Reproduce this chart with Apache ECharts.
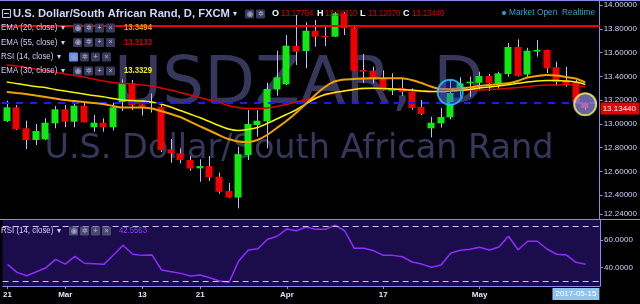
<!DOCTYPE html>
<html><head><meta charset="utf-8">
<script src="https://cdn.jsdelivr.net/npm/echarts@6/dist/echarts.min.js"></script>
<style>html,body{margin:0;padding:0;background:#000;}#c{width:640px;height:304px;}</style>
</head><body><div id="c"></div>
<script>
const categories = ['2017-02-21','2017-02-22','2017-02-23','2017-02-24','2017-02-27','2017-02-28',
'2017-03-01','2017-03-02','2017-03-03','2017-03-06','2017-03-07','2017-03-08','2017-03-09','2017-03-10','2017-03-13','2017-03-14','2017-03-15','2017-03-16','2017-03-17','2017-03-20','2017-03-21','2017-03-22','2017-03-23','2017-03-24','2017-03-27','2017-03-28','2017-03-29','2017-03-30','2017-03-31',
'2017-04-03','2017-04-04','2017-04-05','2017-04-06','2017-04-07','2017-04-10','2017-04-11','2017-04-12','2017-04-13','2017-04-14','2017-04-17','2017-04-18','2017-04-19','2017-04-20','2017-04-21','2017-04-24','2017-04-25','2017-04-26','2017-04-27','2017-04-28',
'2017-05-01','2017-05-02','2017-05-03','2017-05-04','2017-05-05','2017-05-08','2017-05-09','2017-05-10','2017-05-11','2017-05-12','2017-05-15','2017-05-16','2017-05-17'];

const open  = [13.0248,13.1402,12.9634,12.8649,12.8707,13.0055,13.1234,13.0190,13.1537,12.9718,13.0105,12.9718,13.1849,13.3423,13.1655,13.1790,13.1453,12.7865,12.7529,12.6964,12.6265,12.6459,12.5558,12.4354,12.3806,12.7385,12.9912,13.0223,13.2901,13.3339,13.6564,13.6143,13.7853,13.7432,13.7348,13.9318,13.8105,13.4543,13.4484,13.3827,13.2800,13.3027,13.2716,13.1427,12.9634,13.0055,13.0560,13.2859,13.3423,13.3474,13.4038,13.3423,13.4206,13.6480,13.4164,13.6143,13.6227,13.4771,13.3676,13.3558,13.17764];
const high  = [13.1958,13.1596,13.0274,12.9996,13.0476,13.1512,13.1596,13.2017,13.1790,13.0754,13.0476,13.1790,13.3760,13.3701,13.2017,13.2564,13.1739,12.8733,12.7950,12.7301,12.7023,12.7301,12.5912,12.5027,12.8084,13.1175,13.1175,13.3474,13.6168,13.7491,13.9175,13.8560,13.8754,13.8333,13.9428,13.9428,13.8190,13.5891,13.4821,13.4518,13.4265,13.3811,13.3002,13.2017,13.0611,13.1360,13.3701,13.3928,13.3979,13.4400,13.4206,13.4400,13.6817,13.7128,13.6413,13.7070,13.6260,13.5242,13.4821,13.3701,13.18310];
const low   = [13.0164,12.9491,12.7891,12.8227,12.8649,12.9634,12.9718,12.9718,13.0122,12.9347,12.9347,12.9449,13.1091,13.1175,13.0712,13.0964,12.7638,12.6737,12.6686,12.6063,12.5137,12.5196,12.4126,12.3764,12.2897,12.6964,12.8926,12.7950,13.2379,13.3280,13.4964,13.4686,13.6505,13.6564,13.7322,13.7491,13.4459,13.3449,13.3423,13.2817,13.2438,13.2371,13.1200,13.0754,12.8876,12.9701,13.0392,13.2295,13.2295,13.2859,13.2775,13.2960,13.3979,13.3996,13.3979,13.5663,13.4291,13.3196,13.3137,13.1764,13.12070];
const close = [13.1402,12.9550,12.8649,12.9406,13.0105,13.1234,13.0190,13.1537,13.0139,13.0105,12.9718,13.1402,13.3423,13.1596,13.1453,13.1874,12.7806,12.7529,12.6964,12.6248,12.6459,12.5507,12.4295,12.3806,12.7453,12.9996,13.0274,13.2943,13.3928,13.6590,13.6084,13.7853,13.7348,13.7297,13.9318,13.8055,13.4484,13.4400,13.3870,13.2834,13.2943,13.2691,13.1343,13.0838,13.0105,13.0585,13.2606,13.3423,13.3558,13.4038,13.3423,13.4265,13.6480,13.4038,13.6168,13.6227,13.4686,13.3558,13.3390,13.1832,13.13440];

const ema20 = [13.2691,13.2606,13.2522,13.2396,13.2270,13.2143,13.2017,13.1933,13.1849,13.1764,13.1680,13.1512,13.1385,13.1385,13.1385,13.1301,13.1091,13.0838,13.0585,13.0206,12.9827,12.9449,12.9070,12.8733,12.8522,12.8480,12.8649,12.9070,12.9659,13.0248,13.0922,13.1680,13.2438,13.3112,13.3575,13.3743,13.3785,13.3827,13.3844,13.3844,13.3844,13.3844,13.3701,13.3449,13.3154,13.2943,13.2943,13.2985,13.3070,13.3196,13.3280,13.3364,13.3423,13.3617,13.3912,13.4038,13.4122,13.4080,13.3954,13.3827,13.3494];
const ema55 = [13.4964,13.4880,13.4754,13.4627,13.4501,13.4375,13.4206,13.4080,13.3954,13.3785,13.3617,13.3491,13.3406,13.3364,13.3280,13.3196,13.3027,13.2859,13.2649,13.2438,13.2227,13.2017,13.1806,13.1554,13.1385,13.1301,13.1301,13.1343,13.1470,13.1638,13.1849,13.2017,13.2227,13.2438,13.2606,13.2775,13.2943,13.3027,13.3027,13.2985,13.2943,13.2901,13.2817,13.2733,13.2733,13.2733,13.2775,13.2817,13.2859,13.2859,13.2901,13.2943,13.3002,13.3070,13.3154,13.3238,13.3280,13.3280,13.3322,13.3250,13.3133];
const ema30 = [13.3533,13.3406,13.3280,13.3154,13.3070,13.2901,13.2775,13.2649,13.2522,13.2396,13.2295,13.2143,13.2017,13.1975,13.1933,13.1849,13.1680,13.1427,13.1133,13.0838,13.0543,13.0206,12.9870,12.9575,12.9449,12.9533,12.9701,13.0038,13.0417,13.0796,13.1175,13.1680,13.2143,13.2480,13.2649,13.2775,13.2901,13.2985,13.3002,13.2985,13.2943,13.2901,13.2859,13.2775,13.2733,13.2733,13.2775,13.2834,13.2901,13.3027,13.3112,13.3196,13.3305,13.3423,13.3533,13.3617,13.3659,13.3659,13.3617,13.3533,13.3329];
const rsi14 = [42.4,36.6,34.2,37.1,40.0,46.0,42.6,48.2,43.2,42.9,42.4,49.2,56.2,49.7,48.9,49.2,38.3,37.1,35.9,34.0,34.7,32.7,30.4,29.4,44.8,52.8,53.7,60.5,62.7,68.0,66.7,69.4,67.7,67.7,70.8,66.7,54.0,54.0,52.3,48.9,48.9,47.9,44.1,42.6,40.3,41.9,50.4,52.6,53.3,54.7,52.8,54.9,62.7,53.0,59.1,59.1,53.5,49.7,49.2,43.9,42.5563];

const tickDates  = ['2017-02-21','2017-03-01','2017-03-13','2017-03-21','2017-04-03','2017-04-17','2017-05-01'];
const tickLabels = ['21','Mar','13','21','Apr','17','May'];
const priceTicks = [12.24,12.4,12.6,12.8,13.0,13.2,13.4,13.6,13.8,14.0];
const rsiTicks = [40,60];
const rsiBands = [70,30];
const redLevel = 13.8333;
const dashedLevel = 13.1764;
const lastPrice = 13.1344;
const cursorDate = '2017-05-15';
const markerDates = ['2017-04-26','2017-05-16'];
const markerValues = [13.2665,13.1655];
const legendValues = ['13.3494','13.3133','13.3329'];
const rsiValueText = '42.5563';
const ohlcText = ['13.17764','13.18310','13.12070','13.13440'];

const LAV = '#8a8ae8';
const CLEAR = 'rgba(0,0,0,0)';
const FONT = '"Liberation Sans", Arial, sans-serif';
const candleData = open.map((o,i)=>[i,o,close[i],low[i],high[i]]);

function renderCandle(params, api){
  const i = api.value(0);
  const o = api.value(1), c = api.value(2), l = api.value(3), h = api.value(4);
  const pO = api.coord([i,o]), pC = api.coord([i,c]), pL = api.coord([i,l]), pH = api.coord([i,h]);
  const w = Math.round(api.size([1,0])[0]*0.72);
  const x = Math.round(pO[0]) + 0.5;
  const up = c >= o;
  const top = Math.min(pO[1],pC[1]), bot = Math.max(pO[1],pC[1]);
  return {type:'group', children:[
    {type:'line', shape:{x1:x,y1:pH[1],x2:x,y2:pL[1]}, style:{stroke:'#bcbcff', lineWidth:1}},
    {type:'rect', shape:{x:x-0.5-w/2, y:top, width:w, height:Math.max(bot-top,1.5)}, style:{fill: up?'#12e812':'#f00000'}}
  ]};
}

function txt(x,y,text,fill,size,weight,sx,align){
  return {type:'text', x:x, y:y, scaleX:sx||1, z:20, silent:true,
    style:{text:text, fill:fill, font:(weight||'normal')+' '+size+'px '+FONT, align:align||'left', verticalAlign:'middle'}};
}
function icon(x,y,glyph,bg){
  return [{type:'rect', z:20, silent:true, shape:{x:x,y:y-4.5,width:9,height:9,r:1}, style:{fill:bg||'#3a3a5c'}},
          {type:'text', z:21, silent:true, x:x+4.5, y:y, style:{text:glyph, fill:'#9a9abc', font:'bold 7px '+FONT, align:'center', verticalAlign:'middle'}}];
}
const G = [];
// watermark
G.push({type:'text', x:299, y:86, z:-1, silent:true, style:{text:'USDZAR, D', fill:'#37375c', font:'66px "DejaVu Sans", sans-serif', align:'center', verticalAlign:'middle'}});
G.push({type:'text', x:299, y:149, z:-1, silent:true, style:{text:'U.S. Dollar/South African Rand', fill:'#37375c', font:'33.5px "DejaVu Sans", sans-serif', align:'center', verticalAlign:'middle'}});
// frame
G.push({type:'line', z:5, silent:true, shape:{x1:0,y1:0.5,x2:640,y2:0.5}, style:{stroke:LAV, lineWidth:1}});
G.push({type:'line', z:5, silent:true, shape:{x1:0,y1:219.5,x2:640,y2:219.5}, style:{stroke:LAV, lineWidth:1}});
// title row
G.push({type:'rect', z:20, silent:true, shape:{x:2.5,y:9.5,width:8,height:8}, style:{fill:'none', stroke:'#c8c8f5', lineWidth:1}});
G.push({type:'line', z:20, silent:true, shape:{x1:4,y1:13.5,x2:9,y2:13.5}, style:{stroke:'#c8c8f5', lineWidth:1}});
G.push(txt(13,14,'U.S. Dollar/South African Rand, D, FXCM','#d4d4ff',11,'bold',1.02));
G.push(txt(233,14,'▾','#d4d4ff',8,'normal',1));
G.push(...icon(245,14,'◉'), ...icon(256,14,'✲'));
const ohlcX = [[272,281],[317,325],[360,368],[403,412]];
['O','H','L','C'].forEach((k,j)=>{ G.push(txt(ohlcX[j][0],14,k,'#ffffff',9,'bold',1)); G.push(txt(ohlcX[j][1],14,ohlcText[j],'#e00000',9,'normal',0.86)); });
G.push({type:'circle', z:20, silent:true, shape:{cx:504,cy:13,r:2}, style:{fill:'#36a3c8'}});
G.push(txt(509,13,'Market Open  Realtime','#36a3c8',9,'normal',0.93));
// legend rows
const rows = [['EMA (20, close)',28,'#e8a200',legendValues[0]],['EMA (55, close)',42.5,'#d00000',legendValues[1]],['RSI (14, close)',57,null,null],['EMA (30, close)',71,'#f0f000',legendValues[2]]];
rows.forEach(r=>{
  G.push(txt(1,r[1],r[0],'#d0d0ff',9,'normal',0.88));
  const isRsi = r[2]===null;
  const ax = isRsi ? 57 : 61;
  G.push(txt(ax,r[1],'▾','#d0d0ff',8,'normal',1));
  const x0 = isRsi ? 69 : 73;
  G.push(...icon(x0,r[1],'◉', isRsi?'#5a94f0':null), ...icon(x0+11,r[1],'✲'), ...icon(x0+22,r[1],'+'), ...icon(x0+33,r[1],'×'));
  if(!isRsi) G.push(txt(124,r[1],r[3],r[2],9,'bold',0.86));
});
// RSI pane legend
G.push(txt(1,231,'RSI (14, close)','#d0d0ff',9,'normal',0.88));
G.push(txt(57,231,'▾','#d0d0ff',8,'normal',1));
G.push(...icon(69,231,'◉','#4a4a70'), ...icon(80,231,'✲','#4a4a70'), ...icon(91,231,'+','#4a4a70'), ...icon(102,231,'×','#4a4a70'));
G.push(txt(119,231,rsiValueText,'#9a3cff',9,'normal',0.86));

const tickFn = (i,v)=>tickDates.indexOf(v)>=0;

const option = {
  backgroundColor:'#000000',
  animation:false,
  grid:[
    {left:2,right:40,top:0,height:219,borderWidth:0},
    {left:2,right:40,top:220,height:66,show:true,backgroundColor:'#1b0c4c',borderWidth:0}
  ],
  xAxis:[
    {type:'category',gridIndex:0,data:categories,boundaryGap:true,axisLine:{show:false},axisTick:{show:false},axisLabel:{show:false},splitLine:{show:false}},
    {type:'category',gridIndex:1,data:categories,boundaryGap:true,
      axisLine:{show:true,lineStyle:{color:LAV,width:1}},
      axisTick:{show:true,alignWithLabel:true,interval:tickFn,length:3,lineStyle:{color:LAV}},
      axisLabel:{interval:tickFn,formatter:v=>tickLabels[tickDates.indexOf(v)]||'',color:'#e4e4ff',fontSize:8,fontWeight:'bold',fontFamily:'Liberation Sans',margin:5},
      splitLine:{show:false}}
  ],
  yAxis:[
    {type:'value',gridIndex:0,position:'right',min:12.2,max:14.0438,interval:0.2,
      axisLine:{show:true,lineStyle:{color:LAV}},
      axisTick:{show:true,length:3,customValues:priceTicks,lineStyle:{color:LAV}},
      axisLabel:{customValues:priceTicks,formatter:v=>v.toFixed(5),color:'#d0d0ff',fontSize:8,fontFamily:'Liberation Sans',margin:4},
      splitLine:{show:false}},
    {type:'value',gridIndex:1,position:'right',min:26.77,max:74.46,
      axisLine:{show:true,lineStyle:{color:LAV}},
      axisTick:{show:true,length:3,customValues:rsiTicks,lineStyle:{color:LAV}},
      axisLabel:{customValues:rsiTicks,formatter:v=>v.toFixed(4),color:'#d0d0ff',fontSize:8,fontFamily:'Liberation Sans',margin:4},
      splitLine:{show:false}}
  ],
  graphic:{elements:G},
  series:[
    {type:'custom',name:'USDZAR',xAxisIndex:0,yAxisIndex:0,data:candleData,encode:{x:0,y:[1,2,3,4]},renderItem:renderCandle,z:2,silent:true},
    {type:'line',name:'EMA55',xAxisIndex:0,yAxisIndex:0,data:ema55,showSymbol:false,smooth:0.3,z:3,silent:true,
      lineStyle:{color:'#e00000',width:1.5},
      markLine:{symbol:'none',silent:true,animation:false,
        data:[
          {yAxis:redLevel,lineStyle:{color:'#f00000',width:2,type:'solid'},label:{show:false}},
          {yAxis:dashedLevel,lineStyle:{color:'#1a1aff',width:2,type:[7,7]},label:{show:false}},
          {yAxis:lastPrice,lineStyle:{color:CLEAR,width:1},label:{show:true,position:'end',distance:1,formatter:lastPrice.toFixed(5),color:'#ffffff',backgroundColor:'#e60000',padding:[2,3,2,2],fontSize:8,fontFamily:'Liberation Sans'}}
        ]}},
    {type:'line',name:'EMA30',xAxisIndex:0,yAxisIndex:0,data:ema30,showSymbol:false,smooth:0.3,z:4,silent:true,lineStyle:{color:'#f5f500',width:1.5}},
    {type:'line',name:'EMA20',xAxisIndex:0,yAxisIndex:0,data:ema20,showSymbol:false,smooth:0.3,z:5,silent:true,lineStyle:{color:'#f0a000',width:2}},
    {type:'scatter',name:'marks',xAxisIndex:0,yAxisIndex:0,z:6,silent:true,
      data:[
        {value:[markerDates[0],markerValues[0]],symbolSize:25,itemStyle:{color:'rgba(50,70,255,0.45)',borderColor:'#20d0ff',borderWidth:2}},
        {value:[markerDates[1],markerValues[1]],symbolSize:22,itemStyle:{color:'rgba(165,155,255,0.8)',borderColor:'#f4f46a',borderWidth:2}}
      ]},
    {type:'line',name:'RSI',xAxisIndex:1,yAxisIndex:1,data:rsi14,showSymbol:false,z:3,silent:true,lineStyle:{color:'#8f2cff',width:1.5},
      markLine:{symbol:'none',silent:true,animation:false,
        data:[
          {yAxis:rsiBands[0],lineStyle:{color:'#c8c8ff',width:1,type:[6,4]},label:{show:false}},
          {yAxis:rsiBands[1],lineStyle:{color:'#c8c8ff',width:1,type:[6,4]},label:{show:false}},
          {xAxis:cursorDate,lineStyle:{color:CLEAR,width:1},label:{show:true,position:'start',distance:2,formatter:cursorDate,color:'#ffffff',backgroundColor:'#90c4ee',padding:[2,3],fontSize:8,fontFamily:'Liberation Sans'}}
        ]}}
  ]
};
const chart = echarts.init(document.getElementById('c'),null,{renderer:'canvas'});
chart.setOption(option);
</script></body></html>
